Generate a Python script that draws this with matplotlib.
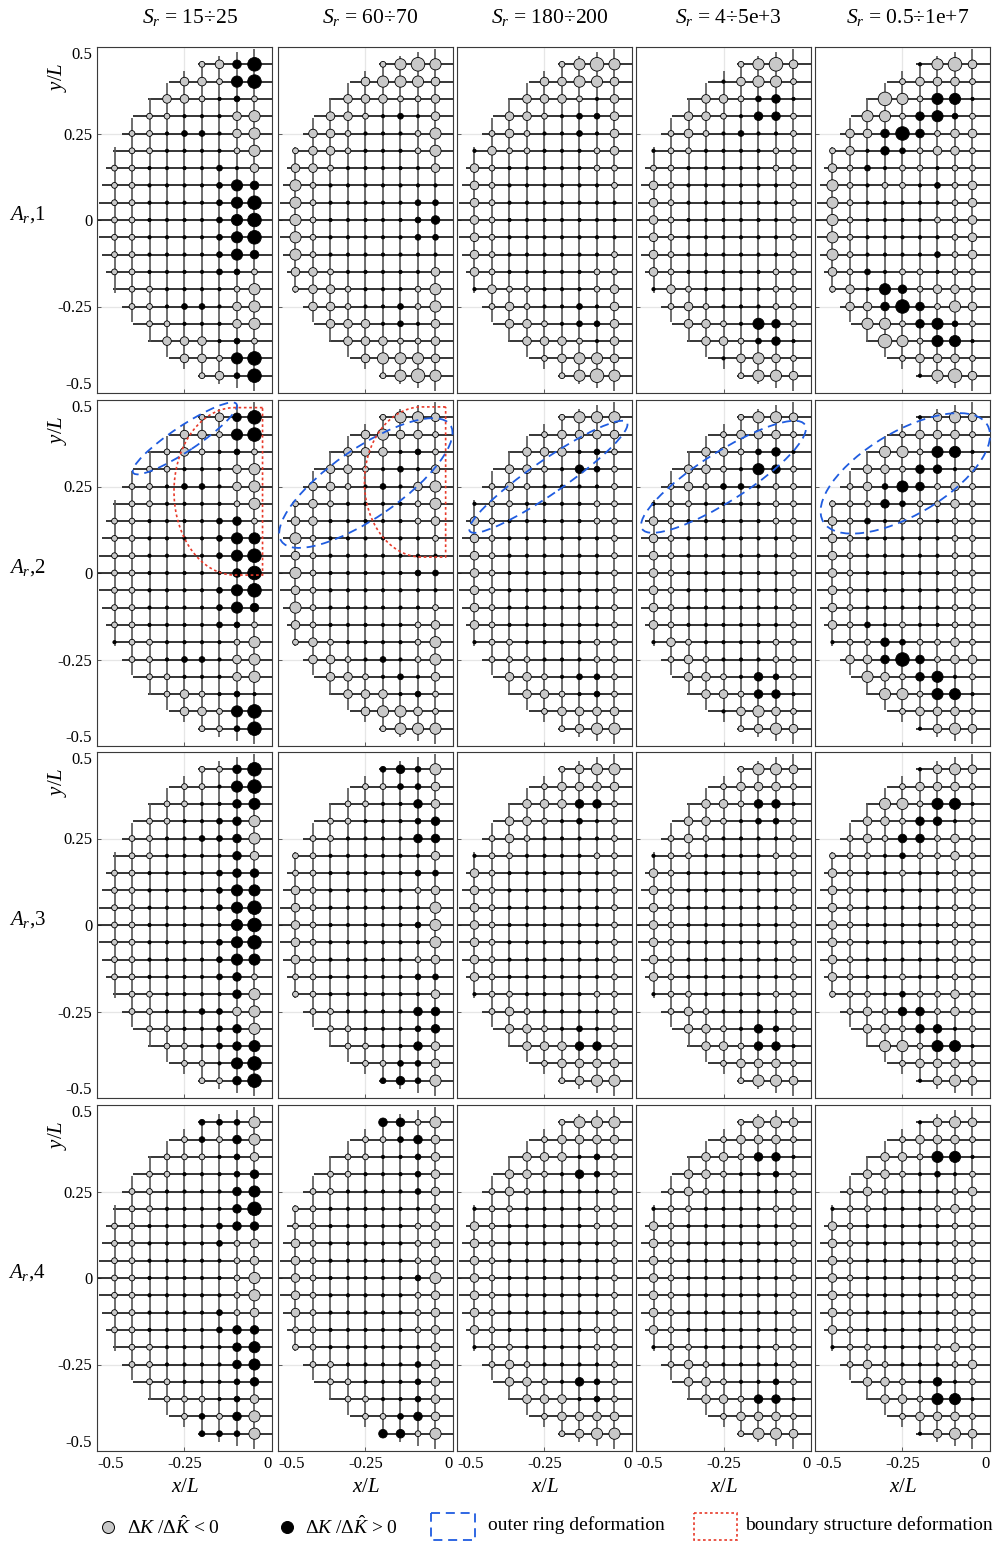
import numpy as np
import matplotlib
matplotlib.use("Agg")
import matplotlib.pyplot as plt
from matplotlib.patches import Ellipse, PathPatch, Rectangle
from matplotlib.path import Path

plt.rcParams['font.family'] = ['Liberation Serif', 'DejaVu Serif']
plt.rcParams['mathtext.fontset'] = 'custom'
plt.rcParams['mathtext.rm'] = 'Liberation Serif'
plt.rcParams['mathtext.it'] = 'Liberation Serif:italic'
plt.rcParams['mathtext.bf'] = 'Liberation Serif:bold'

# ---------------- data ----------------
col_titles = ["$S_r$ = 15÷25", "$S_r$ = 60÷70", "$S_r$ = 180÷200",
              "$S_r$ = 4÷5e+3", "$S_r$ = 0.5÷1e+7"]
row_titles = ["$A_{r}$,1", "$A_{r}$,2", "$A_{r}$,3", "$A_{r}$,4"]
x_ticks = [-0.5, -0.25, 0]
x_tick_labels = ["-0.5", "-0.25", "0"]
y_ticks = [0.5, 0.25, 0, -0.25, -0.5]
y_tick_labels = ["0.5", "0.25", "0", "-0.25", "-0.5"]

# lattice node rows (y/L) and columns (x/L)
y_rows = [0.45, 0.40, 0.35, 0.30, 0.25, 0.20, 0.15, 0.10, 0.05, 0.0,
          -0.05, -0.10, -0.15, -0.20, -0.25, -0.30, -0.35, -0.40, -0.45]
x_cols = [-0.45, -0.40, -0.35, -0.30, -0.25, -0.20, -0.15, -0.10, -0.05]

# node codes per row (left -> right): lowercase = dK/dK^ < 0 (grey),
# uppercase = dK/dK^ > 0 (black); a..d / A..D = magnitude class,
# '.' = near-zero, '_' = no marker
K_A1_S1 = ["abBD", "bbaCD", "bba.Aa", "aa...bc", "aa.AA.bc", "_aa....ac",
           "aa....A.b", "aa....ACB", "aa....ACD", "aa....ACD", "aa....ACD",
           "aa....ACB", "aa....AAa", "_aa....ac", "aa.AA.bc", "aa...bc",
           "bbb.Aa", "bbaCD", "abAD"]
K_A1_S2 = ["acdc", "bcccb", "bbbaab", "bba.A.b", "bba...ac", "abba...ac",
           "bba.....b", "ca.......", "ca.....AA", "ca.....AB", "ca.....AA",
           "ca.......", "bba.....b", "abba...ac", "bba..Aac", "bbb.A.b",
           "bbbaab", "bcccb", "acdc"]
K_A1_S3 = ["acdc", "bbccb", "bbba.b", "bba.AAb", "aba..A.b", ".baa...ab",
           "ba.....aa", "ba......a", "ba.......", "ba.......", "ba.......",
           "ba......a", "ba.....aa", ".baa...ab", "aba..A.b", "bba.AAb",
           "bbba.b", "abccb", "acdc"]
K_A1_S4 = ["acdb", ".bcca", "bbaAB.", "bba.BBa", "aba.A..a", ".aa....aa",
           "aa.....aa", "ba......a", "ba......a", "ba......a", "ba......a",
           "ba......a", "ba.....aa", ".ba....aa", "aba...aa", "bba.CBa",
           "bbaAB.", ".bcba", "accb"]
K_A1_S5 = [".cdb", "abbba", "dcaCC.", "ccaBCAa", "bbBDBabb", "ab.BAabba",
           "baA.aa.aa", "ca.aa.Aab", "ca.....ab", "ca....aab", "ca.....ab",
           "ca....Aab", "baA.aa.aa", "ab.CBabba", "bbBDBacb", "ccaBCAa",
           "dcaCC.", "abbba", ".cdb"]
K_A2_S1 = ["abBD", "bbaCD", "aba.Aa", "aa...bc", "aa.AA.bc", "_aa....ac",
           "aa....ABa", "aa....ACC", "aa....ACD", "aa.....BD", "aa....ACD",
           "aa....ACB", "aa....AAa", ".aa....ac", "aa.AA.bc", "aa...bc",
           "aba.A.", "bbaCD", "aaAD"]
K_A2_S2 = ["accb", "bcbba", "bbb.Aa", "bba.A.b", "bba.A.bc", "aba....ac",
           "bb.....ab", "ca......a", "ba.......", "ca.....AA", "ba.......",
           "ca......a", "ba.....ab", "aba....ac", "bba.A.ac", "bba.A.b",
           "bbb.Aa", "bccba", "accc"]
K_A2_S3 = ["accc", "abbbb", "bbb.Aa", "bba.BAa", "aba....a", ".aa....aa",
           "ba.....aa", "ba......a", "ba......a", "ba......a", "ba......a",
           "ba......a", "ba......a", ".aa....aa", "aaa...aa", "bba.AAa",
           "bba.Aa", "abbbb", "abcc"]
K_A2_S4 = ["accb", "abbba", "bbaAB.", "bba.CBa", "abaAA.aa", ".aa....aa",
           "ba.....aa", "ba......a", "ba......a", "ba......a", "ba......a",
           "ba......a", "ba......a", ".ba....aa", "aba...aa", "bba.BAa",
           "bbaBB.", ".bcba", "abcb"]
K_A2_S5 = [".bcb", "abbba", "ccaCC.", "bbaBB.a", "abACBaba", "aaaBAaaba",
           "baA.aa.aa", "ba.....aa", "ba.....aa", "ba.....aa", "ba.....aa",
           "ba.....aa", "baA.a..aa", ".aaBAaaba", "bbBDBabb", "cbaBC.a",
           "ccaCC.", "abbba", ".bcb"]
K_A3_S1 = ["aaBD", "aa.CD", "aa..BC", "aa..ABc", "aa..AABc", "_aa....Bb",
           "aa....ABB", "aa....ACC", "aa....ACD", "aa.....CD", "aa....ACD",
           "aa....ACC", "aa....ABa", "_aa....Bc", "aa..AAbc", "aa..ABc",
           "aa.ABC", "aa.CD", "aaBD"]
K_A3_S2 = ["ABAc", "aaAAb", "aa..Bb", "aa...AB", "aa....BB", "aa......b",
           "aa.....AA", "ba.....ab", "ba......c", "ba.....Ac", "ba......c",
           "ba.....ab", "aa.....AA", "aa......b", "aa....BB", "aa...AB",
           "aa..Bb", "aaAAb", "ABAc"]
K_A3_S3 = ["abcc", "abbbb", "bbbBBa", "bba.A.a", "aba....a", ".aa....aa",
           "ba......a", "ba......a", "ba......a", "ba......a", "ba......a",
           "ba......a", "ba......a", ".aa....aa", "aba....a", "bba.A.a",
           "bbbBBa", "abbbb", "abcc"]
K_A3_S4 = ["accb", "abbba", "bbaBB.", "bba.AAa", "aba....a", ".aa....aa",
           "ba......a", "ba......a", "ba......a", "ba......a", "ba......a",
           "ba......a", "ba......a", ".aa....aa", "aba....a", "bba.BAa",
           "bbaBB.", "abbba", "accb"]
K_A3_S5 = [".bcb", "abbba", "ccaCC.", "bbaBB.a", "abaBBaba", "aaa.Aaaba",
           "ba..a..aa", "ba.....aa", "ba.....aa", "ba.....aa", "ba.....aa",
           "ba.....aa", "ba..a..aa", "aaa.Aaaba", "abaBBaba", "bbaBB.a",
           "ccaCC.", "abbba", ".bcb"]
K_A4_S1 = ["AAAc", "aAaBc", "aaa.Ab", "aa...AB", "aa....BC", "_aa....BD",
           "aa....ABB", "aa....Aab", "aa.....ab", "aa.....ac", "aa.....ac",
           "aa....Aab", "aa....ABB", "_aa....BC", "aa....BC", "aa...AB",
           "aaa.Ab", "aAaBc", "AAAc"]
K_A4_S2 = ["BBac", "aaABb", "aa..Ab", "aa...Ab", "aa....Ab", "aa......b",
           "aa.....ab", "ba.....ab", "ba.....ab", "ba.....Ac", "ba.....ab",
           "ba.....ab", "aa.....ab", "aa......b", "aa....Ab", "aa...Ab",
           "aa..Ab", "aaABb", "BBac"]
K_A4_S3 = ["accc", "abbbb", "bbb.Aa", "bba.BAa", "aba....a", ".aa....aa",
           "ba.....aa", "ba......a", "ba......a", "ba......a", "ba......a",
           "ba......a", "ba.....aa", ".aa....aa", "aba....a", "bba.BAa",
           "bbb.Aa", "abbbb", "abcc"]
K_A4_S4 = ["accb", "abbba", "bbaBB.", "bba..Aa", "aba....a", ".aa....aa",
           "ba......a", "ba......a", "ba......a", "ba......a", "ba......a",
           "ba......a", "ba......a", ".aa....aa", "aba....a", "bba..Aa",
           "bbaBB.", "abbba", "accb"]
K_A4_S5 = [".bcb", "abbba", "bbaCC.", "bba.A.a", "aba...ab", ".aa...aba",
           "ba.....aa", "ba.....aa", "ba.....aa", "ba.....aa", "ba.....aa",
           "ba.....aa", "ba.....aa", ".aa...aba", "aba...ab", "bba.B.a",
           "bbaCC.", "abbba", ".bcb"]

panels = [[K_A1_S1, K_A1_S2, K_A1_S3, K_A1_S4, K_A1_S5],
          [K_A2_S1, K_A2_S2, K_A2_S3, K_A2_S4, K_A2_S5],
          [K_A3_S1, K_A3_S2, K_A3_S3, K_A3_S4, K_A3_S5],
          [K_A4_S1, K_A4_S2, K_A4_S3, K_A4_S4, K_A4_S5]]

# outer ring deformation ellipses (row A_r,2): centre x, centre y, semi-axes, angle
ring_cx = [-0.249, -0.249, -0.239, -0.250, -0.242]
ring_cy = [0.389, 0.260, 0.278, 0.278, 0.288]
ring_a = [0.178, 0.294, 0.274, 0.277, 0.273]
ring_b = [0.036, 0.100, 0.048, 0.070, 0.120]
ring_ang = [34, 35, 35, 33, 31]
# boundary structure deformation regions (row A_r,2, columns 1-2)
bnd_xc = [-0.106, -0.089]
bnd_yc = [0.236, 0.263]
bnd_a = [0.174, 0.164]
bnd_b = [0.242, 0.217]
bnd_xr = [-0.027, -0.021]

# ---------------- style ----------------
W, H = 1003, 1545
fig = plt.figure(figsize=(W / 100, H / 100), dpi=100)
col_left = [97, 278, 457, 636, 815]
row_top = [47, 400, 752, 1105]
AW, AH = 175, 346
R_LINE = 0.497
R_NODE = 0.4935
GREY = '#c8c8c8'
size_px = {'.': 3.3, 'a': 5.8, 'b': 8.6, 'c': 11.2, 'd': 13.6}


def ax_rect(l, t):
    return [l / W, 1 - (t + AH) / H, AW / W, AH / H]


def draw_panel(ax, rows):
    for y in y_rows:
        x0 = -np.sqrt(R_LINE ** 2 - y ** 2)
        ax.plot([x0, 0], [y, y], color='#141414', lw=1.2, zorder=2,
                solid_capstyle='butt')
    for x in x_cols:
        h = np.sqrt(R_LINE ** 2 - x ** 2)
        ax.plot([x, x], [-h, h], color='#555555', lw=1.2, zorder=2,
                solid_capstyle='butt')
    xs_all, ys_all, ss, fc = [], [], [], []
    for y, code in zip(y_rows, rows):
        xs = [x for x in x_cols if x * x + y * y <= R_NODE ** 2 + 1e-9]
        for x, ch in zip(xs, code):
            if ch == '_':
                continue
            d = size_px[ch.lower()]
            xs_all.append(x)
            ys_all.append(y)
            ss.append((d * 0.72) ** 2)
            fc.append(GREY if ch.islower() else 'black')
    ax.scatter(xs_all, ys_all, s=ss, c=fc, edgecolors='black',
               linewidths=0.6, zorder=3)


for r in range(4):
    for c in range(5):
        ax = fig.add_axes(ax_rect(col_left[c], row_top[r]))
        ax.set_xlim(-0.5, 0)
        ax.set_ylim(-0.5, 0.5)
        ax.set_xticks(x_ticks)
        ax.set_yticks(y_ticks)
        ax.grid(True, color='#e6e6e6', lw=0.9, zorder=0)
        ax.set_axisbelow(True)
        ax.tick_params(direction='in', length=3, width=0.6, color='#444444',
                       top=False, right=False, labelsize=12)
        for sp in ax.spines.values():
            sp.set_color('#3a3a3a')
            sp.set_linewidth(0.8)
        if r == 3:
            ax.set_xticklabels(x_tick_labels)
            lbls = ax.get_xticklabels()
            lbls[0].set_ha('left')
            lbls[-1].set_ha('right')
        else:
            ax.set_xticklabels([])
        if c == 0:
            ax.set_yticklabels(y_tick_labels)
            lbls = ax.get_yticklabels()
            lbls[0].set_va('top')
            lbls[-1].set_va('bottom')
        else:
            ax.set_yticklabels([])
        draw_panel(ax, panels[r][c])
        if r == 1:
            e = Ellipse((ring_cx[c], ring_cy[c]), 2 * ring_a[c], 2 * ring_b[c],
                        angle=ring_ang[c], fill=False, edgecolor='#1f5ce0',
                        lw=1.3, linestyle=(0, (5, 3.2)), zorder=5, clip_on=False)
            ax.add_patch(e)
            if c < 2:
                xc, yc, a, b, xr = bnd_xc[c], bnd_yc[c], bnd_a[c], bnd_b[c], bnd_xr[c]
                t = np.linspace(np.pi / 2, 3 * np.pi / 2, 60)
                pts = [(xr, yc + b)] + [(xc + a * np.cos(tt), yc + b * np.sin(tt)) for tt in t] \
                      + [(xr, yc - b), (xr, yc + b)]
                pp = PathPatch(Path(pts), fill=False, edgecolor='#e83a2a', lw=1.2,
                               linestyle=(0, (1.6, 1.6)), zorder=5)
                ax.add_patch(pp)

# ---------------- overlay text ----------------
ov = fig.add_axes([0, 0, 1, 1], zorder=10)
ov.set_xlim(0, W)
ov.set_ylim(H, 0)
ov.axis('off')
for c in range(5):
    cx = col_left[c] + AW / 2
    ov.text(cx + 5, 18, col_titles[c], ha='center', va='center', fontsize=15.5)
    ov.text(cx, 1488, "$x/L$", ha='center', va='center', fontsize=15)
for r in range(4):
    ov.text(27, row_top[r] + AH / 2 - 5, row_titles[r], ha='center', va='center',
            fontsize=15)
    ov.text(58, row_top[r] + 30, "$y/L$", ha='center', va='center', fontsize=15,
            rotation=90)

# legend
ly = 1527
ov.scatter([108], [ly], s=(12 * 0.72) ** 2, c=GREY, edgecolors='black', linewidths=0.7)
ov.text(127, ly, r"$\Delta K\ /\Delta\hat{K}$ < 0", ha='left', va='center', fontsize=14)
ov.scatter([287], [ly], s=(12 * 0.72) ** 2, c='black', edgecolors='black', linewidths=0.7)
ov.text(305, ly, r"$\Delta K\ /\Delta\hat{K}$ > 0", ha='left', va='center', fontsize=14)
ov.add_patch(Rectangle((431, 1513), 44, 27, fill=False, edgecolor='#1f5ce0', lw=1.3,
                       linestyle=(0, (5, 3.2))))
ov.text(488, ly - 2, "outer ring deformation", ha='left', va='center', fontsize=14)
ov.add_patch(Rectangle((694, 1513), 43, 27, fill=False, edgecolor='#e83a2a', lw=1.2,
                       linestyle=(0, (1.6, 1.6))))
ov.text(745, ly - 2, "boundary structure deformation", ha='left', va='center', fontsize=14)

fig.savefig("out.png", dpi=100)
